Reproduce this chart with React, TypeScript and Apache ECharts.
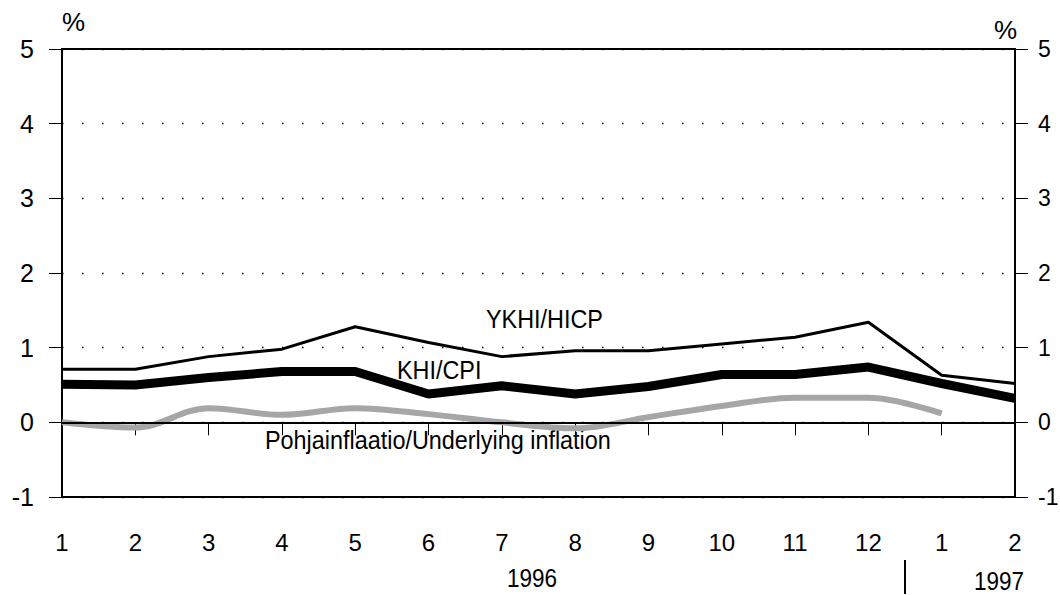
import React, { useEffect, useRef } from "react";
import * as echarts from "echarts";

const months = ["1", "2", "3", "4", "5", "6", "7", "8", "9", "10", "11", "12", "1", "2"];
const hicp = [0.71, 0.71, 0.88, 0.98, 1.28, 1.07, 0.88, 0.96, 0.96, 1.05, 1.14, 1.34, 0.63, 0.52];
const cpi = [0.51, 0.5, 0.6, 0.68, 0.68, 0.38, 0.49, 0.38, 0.48, 0.64, 0.64, 0.74, 0.52, 0.32];
const underlying = [0, -0.07, 0.19, 0.1, 0.19, 0.11, 0, -0.08, 0.07, 0.22, 0.33, 0.33, 0.12, null];
const yearLabels = ["1996", "1997"];
const seriesLabels = ["YKHI/HICP", "KHI/CPI", "Pohjainflaatio/Underlying inflation"];

const FONT = "'Liberation Sans Narrow', 'Arial Narrow', 'Liberation Sans', Arial, sans-serif";

export default function App() {
  const ref = useRef<HTMLDivElement>(null);
  useEffect(() => {
    if (!ref.current) return;
    const chart = echarts.init(ref.current, null, { renderer: "svg" });
    const yAxisCommon = {
      type: "value",
      min: -1,
      max: 5,
      interval: 1,
      axisLine: { show: true, lineStyle: { color: "#000", width: 2 } },
      axisTick: { show: true, length: 13, lineStyle: { color: "#000", width: 1 } },
      axisLabel: { color: "#000", fontSize: 25, fontFamily: FONT, margin: 28 },
    };
    const label = (text: string, x: number, y: number, size: number, sx = 0.9) => ({
      type: "text",
      x,
      y,
      scaleX: sx,
      style: { text, fontSize: size, fontFamily: FONT, fill: "#000", verticalAlign: "top", align: "left" },
    });
    chart.setOption({
      animation: false,
      backgroundColor: "#fff",
      grid: {
        left: 62,
        right: 45,
        top: 49,
        bottom: 98,
        show: true,
        borderColor: "#000",
        borderWidth: 2,
        containLabel: false,
        outerBoundsMode: "none",
      },
      xAxis: {
        type: "category",
        data: months,
        boundaryGap: false,
        axisLine: { show: true, lineStyle: { color: "#000", width: 2 } },
        axisTick: { show: true, length: 13, alignWithLabel: true, lineStyle: { color: "#000", width: 1 } },
        axisLabel: { color: "#000", fontSize: 24, fontFamily: FONT, margin: 33 },
        splitLine: { show: false },
      },
      yAxis: [
        {
          ...yAxisCommon,
          position: "left",
          splitLine: { show: true, lineStyle: { color: "#000", width: 1.3, type: [1.5, 18.5] } },
        },
        {
          ...yAxisCommon,
          position: "right",
          axisLabel: { ...yAxisCommon.axisLabel, fontSize: 23, margin: 23 },
          splitLine: { show: false },
        },
      ],
      series: [
        {
          name: seriesLabels[2],
          type: "line",
          data: underlying,
          smooth: 0.35,
          showSymbol: false,
          connectNulls: false,
          lineStyle: { color: "#a6a6a6", width: 6 },
          z: 2,
          markLine: {
            silent: true,
            symbol: "none",
            label: { show: false },
            lineStyle: { color: "#000", width: 2, type: "solid" },
            data: [{ yAxis: 0 }],
          },
        },
        {
          name: seriesLabels[0],
          type: "line",
          data: hicp,
          showSymbol: false,
          lineStyle: { color: "#000", width: 3 },
          z: 3,
        },
        {
          name: seriesLabels[1],
          type: "line",
          data: cpi,
          showSymbol: false,
          lineStyle: { color: "#000", width: 9 },
          z: 4,
        },
      ],
      graphic: [
        label("%", 62, 9, 26, 1),
        label("%", 994, 17, 26, 1),
        label(seriesLabels[0], 486, 306, 26),
        label(seriesLabels[1], 397, 357, 26),
        label(seriesLabels[2], 265, 427, 26),
        label(yearLabels[0], 507, 566, 25, 0.9),
        label(yearLabels[1], 974, 569, 25, 0.9),
        { type: "line", shape: { x1: 905, y1: 560, x2: 905, y2: 594 }, style: { stroke: "#000", lineWidth: 2 } },
      ],
    });
    return () => chart.dispose();
  }, []);
  return <div ref={ref} style={{ width: 1060, height: 595, position: "absolute", left: 0, top: 0 }} />;
}
